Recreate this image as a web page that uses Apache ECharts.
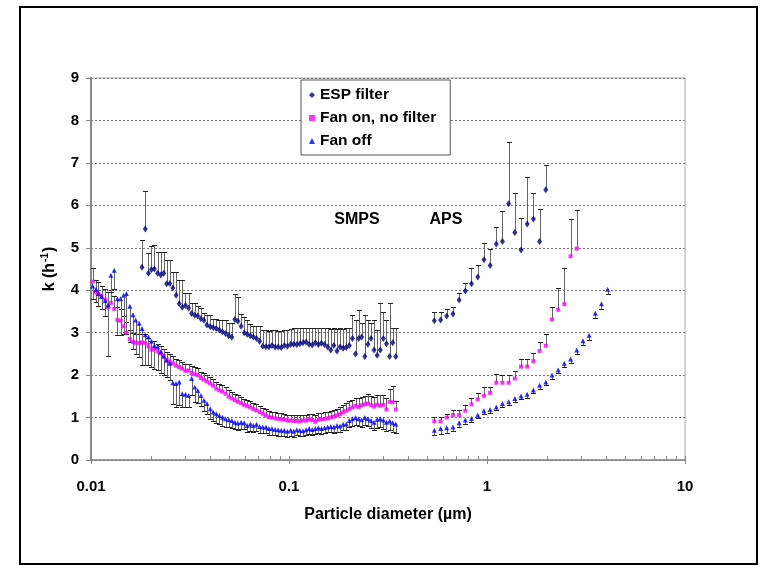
<!DOCTYPE html>
<html><head><meta charset="utf-8">
<script src="https://cdn.jsdelivr.net/npm/echarts/dist/echarts.min.js"></script>
<style>html,body{margin:0;padding:0;background:#fff}#c{width:761px;height:566px}</style>
</head><body><div id="c"></div><script>
// SMPS channel mid-point diameters (µm)
var smpsDiam = [0.0102,0.0106,0.0109,0.0113,0.0118,0.0122,0.0126,0.0131,0.0136,0.0141,
0.0146,0.0151,0.0157,0.0163,0.0168,0.0175,0.0181,0.0188,0.0195,0.0202,
0.0209,0.0217,0.0225,0.0233,0.0241,0.0250,0.0259,0.0269,0.0279,0.0289,
0.0300,0.0311,0.0322,0.0334,0.0346,0.0359,0.0372,0.0385,0.0400,0.0414,
0.0429,0.0445,0.0461,0.0478,0.0496,0.0514,0.0533,0.0552,0.0573,0.0594,
0.0615,0.0638,0.0661,0.0685,0.0710,0.0737,0.0764,0.0791,0.0820,0.0851,
0.0882,0.0914,0.0947,0.0982,0.1018,0.1055,0.1094,0.1134,0.1176,0.1219,
0.1263,0.1310,0.1358,0.1407,0.1459,0.1512,0.1568,0.1625,0.1685,0.1747,
0.1811,0.1877,0.1946,0.2017,0.2091,0.2167,0.2247,0.2329,0.2414,0.2503,
0.2595,0.2690,0.2788,0.2890,0.2996,0.3106,0.3220,0.3338,0.3460];
// APS channel diameters (µm)
var apsDiam = [0.542,0.583,0.626,0.673,0.723,0.777,0.835,0.898,0.965,1.037,
1.114,1.197,1.286,1.382,1.486,1.596,1.715,1.843,1.981,2.129,
2.288,2.458,2.642,2.839,3.051,3.278,3.523,3.786,4.068];

// ESP filter (SMPS starts at 0.0181 µm)
var espSmpsStart = 16;
var espSmps = [4.54,5.44,4.40,4.49,4.50,4.40,4.36,4.40,4.15,4.16,
4.05,3.88,3.68,3.60,3.64,3.58,3.45,3.41,3.39,3.33,
3.29,3.18,3.14,3.12,3.10,3.06,3.02,2.98,2.93,2.89,
3.31,3.27,3.15,3.00,2.96,2.93,2.90,2.86,2.80,2.68,
2.67,2.66,2.70,2.66,2.66,2.65,2.70,2.68,2.72,2.73,
2.72,2.74,2.76,2.78,2.73,2.71,2.76,2.72,2.75,2.72,
2.66,2.59,2.70,2.57,2.66,2.63,2.65,2.70,2.86,2.50,
2.86,2.90,2.44,2.73,2.86,2.59,2.47,2.59,2.86,2.74,
2.44,2.76,2.44];
var espSmpsErr = [0.64,0.89,0.47,0.55,0.57,0.49,0.53,0.49,0.56,0.55,
0.39,0.56,0.56,0.64,0.30,0.36,0.24,0.28,0.23,0.26,
0.18,0.23,0.27,0.21,0.23,0.24,0.28,0.32,0.29,0.33,
0.60,0.56,0.30,0.37,0.34,0.27,0.25,0.29,0.35,0.38,
0.39,0.38,0.36,0.40,0.38,0.40,0.36,0.38,0.36,0.37,
0.38,0.36,0.35,0.34,0.38,0.40,0.34,0.38,0.36,0.38,
0.44,0.50,0.40,0.52,0.44,0.46,0.45,0.40,0.55,0.80,
0.67,0.32,0.97,0.57,0.36,0.71,0.59,1.11,0.63,0.56,
1.26,0.36,0.68];
var espAps = [3.28,3.30,3.39,3.44,3.77,3.98,4.15,4.31,4.72,4.58,
5.09,5.15,6.04,5.36,4.95,5.56,5.68,5.15,6.37];
var espApsErr = [0.20,0.18,0.17,0.17,0.17,0.19,0.37,0.29,0.39,0.40,
0.41,0.72,1.46,0.93,0.75,1.11,0.60,0.77,0.57];

// Fan on, no filter
var fanOnSmps = [4.20,3.95,3.92,3.86,3.78,3.60,3.70,3.56,3.30,3.28,
3.15,3.00,2.85,2.78,2.76,2.76,2.77,2.76,2.68,2.60,
2.62,2.56,2.51,2.44,2.36,2.32,2.28,2.22,2.19,2.15,
2.10,2.11,2.05,2.02,2.00,1.93,1.89,1.85,1.80,1.75,
1.68,1.64,1.61,1.56,1.49,1.45,1.41,1.37,1.34,1.30,
1.27,1.24,1.20,1.17,1.13,1.09,1.05,1.01,1.00,0.98,
0.97,0.96,0.95,0.93,0.93,0.92,0.92,0.91,0.93,0.93,
0.95,0.94,0.90,0.95,0.96,0.97,0.98,1.00,1.02,1.05,
1.08,1.12,1.16,1.20,1.24,1.28,1.25,1.29,1.31,1.33,
1.29,1.26,1.30,1.28,1.30,1.19,1.37,1.36,1.19];
var fanOnSmpsErr = [0.32,0.30,0.28,0.25,0.25,0.35,0.30,0.30,0.30,0.28,
0.25,0.25,0.22,0.22,0.20,0.20,0.20,0.20,0.20,0.20,
0.18,0.18,0.18,0.18,0.18,0.17,0.17,0.17,0.17,0.17,
0.16,0.16,0.16,0.16,0.16,0.15,0.15,0.15,0.15,0.15,
0.15,0.15,0.15,0.15,0.15,0.15,0.15,0.15,0.14,0.14,
0.14,0.14,0.14,0.14,0.14,0.14,0.14,0.14,0.14,0.14,
0.14,0.14,0.14,0.14,0.14,0.14,0.14,0.14,0.14,0.14,
0.14,0.15,0.15,0.15,0.15,0.15,0.16,0.16,0.16,0.16,
0.17,0.17,0.18,0.18,0.18,0.18,0.20,0.20,0.20,0.22,
0.22,0.22,0.22,0.24,0.24,0.28,0.30,0.38,0.20];
var fanOnAps = [0.91,0.91,1.00,1.06,1.06,1.16,1.31,1.43,1.51,1.58,
1.82,1.82,1.82,1.92,2.20,2.20,2.33,2.57,2.69,3.31,
3.54,3.67,4.80,4.98];
var fanOnApsErr = [0.11,0.11,0.09,0.11,0.11,0.13,0.14,0.14,0.20,0.13,
0.20,0.18,0.18,0.18,0.18,0.18,0.18,0.22,0.27,0.30,
0.51,0.85,0.88,0.90];

// Fan off (error bars drawn downward)
var fanOffSmps = [4.10,4.02,3.92,3.85,3.75,3.65,4.35,4.47,3.80,3.80,
3.88,3.92,3.62,3.42,3.30,3.22,3.10,2.95,2.90,2.80,
2.70,2.67,2.55,2.45,2.35,2.28,1.82,1.80,1.84,1.56,
1.55,1.52,1.92,1.72,1.64,1.52,1.41,1.33,1.21,1.13,
1.09,1.05,1.01,0.97,0.95,0.93,0.89,0.87,0.89,0.88,
0.81,0.85,0.81,0.84,0.79,0.78,0.78,0.74,0.74,0.72,
0.71,0.70,0.70,0.68,0.70,0.68,0.71,0.70,0.69,0.71,
0.74,0.72,0.74,0.76,0.74,0.76,0.78,0.79,0.78,0.81,
0.80,0.84,0.85,0.93,0.97,1.00,0.97,0.95,1.00,0.97,
0.93,0.89,0.96,0.97,0.94,0.89,0.92,0.88,0.85];
var fanOffSmpsErr = [0.30,0.30,0.30,0.30,0.35,1.21,0.40,0.45,0.85,0.85,
0.90,0.95,0.85,0.80,0.80,0.80,0.85,0.70,0.65,0.60,
0.55,0.55,0.50,0.45,0.40,0.40,0.50,0.55,0.55,0.30,
0.30,0.28,0.40,0.35,0.30,0.25,0.25,0.25,0.25,0.22,
0.22,0.20,0.20,0.20,0.18,0.18,0.17,0.17,0.17,0.16,
0.16,0.16,0.15,0.15,0.15,0.15,0.14,0.14,0.14,0.14,
0.14,0.13,0.13,0.13,0.13,0.13,0.13,0.13,0.13,0.13,
0.13,0.13,0.13,0.13,0.13,0.13,0.13,0.14,0.14,0.14,
0.14,0.14,0.15,0.16,0.18,0.18,0.18,0.18,0.18,0.18,
0.18,0.18,0.20,0.20,0.20,0.20,0.22,0.22,0.22];
var fanOffAps = [0.70,0.74,0.76,0.78,0.88,0.94,0.98,1.06,1.16,1.19,
1.25,1.33,1.37,1.45,1.51,1.55,1.65,1.76,1.84,2.00,
2.12,2.28,2.38,2.59,2.81,2.94,3.46,3.68,4.02];
var fanOffApsErr = [0.12,0.12,0.12,0.10,0.10,0.10,0.08,0.08,0.08,0.08,
0.08,0.08,0.08,0.08,0.08,0.08,0.08,0.08,0.08,0.08,
0.08,0.08,0.10,0.10,0.10,0.12,0.12,0.12,0.12];

var seriesNames = ['ESP filter', 'Fan on, no filter', 'Fan off'];
var xTickLabels = ['0.01', '0.1', '1', '10'];
var majorTicks = [0.01, 0.1, 1, 10];
var minorTicks = [0.02,0.03,0.04,0.05,0.06,0.07,0.08,0.09,0.2,0.3,0.4,0.5,0.6,0.7,0.8,0.9,2,3,4,5,6,7,8,9];

function build(xs, ys, es, start) {
  var out = [];
  for (var i = 0; i < ys.length; i++) out.push([xs[i + (start || 0)], ys[i], es[i]]);
  return out;
}
var espData = build(smpsDiam, espSmps, espSmpsErr, espSmpsStart).concat(build(apsDiam, espAps, espApsErr, 0));
var fanOnData = build(smpsDiam, fanOnSmps, fanOnSmpsErr, 0).concat(build(apsDiam, fanOnAps, fanOnApsErr, 0));
var fanOffData = build(smpsDiam, fanOffSmps, fanOffSmpsErr, 0).concat(build(apsDiam, fanOffAps, fanOffApsErr, 0));

var FONT = 'Liberation Sans, Arial, sans-serif';

function errSeries(data, dir) {
  return {
    type: 'custom', silent: true, z: 2, data: data,
    encode: { x: 0, y: 1 },
    renderItem: function (params, api) {
      var x = api.value(0), y = api.value(1), e = api.value(2);
      var p1 = api.coord([x, y]), p2 = api.coord([x, y + dir * e]);
      var cx = Math.round(p1[0]) + 0.5, y2 = Math.round(p2[1]) + 0.5;
      return { type: 'group', children: [
        { type: 'line', shape: { x1: cx, y1: p1[1], x2: cx, y2: y2 }, style: { stroke: '#666', lineWidth: 1 } },
        { type: 'line', shape: { x1: cx - 2.5, y1: y2, x2: cx + 2.5, y2: y2 }, style: { stroke: '#222', lineWidth: 1 } }
      ]};
    }
  };
}
function tickSeries(vals, major) {
  return {
    type: 'custom', silent: true, z: 5, data: vals.map(function (v) { return [v, 0]; }),
    encode: { x: 0, y: 1 }, clip: false,
    renderItem: function (params, api) {
      var p = api.coord([api.value(0), 0]);
      var x = Math.round(p[0]) + 0.5;
      return { type: 'line', shape: { x1: x, y1: p[1] - 4, x2: x, y2: p[1] + (major ? 4 : 0) },
        style: { stroke: '#888', lineWidth: 1 } };
    }
  };
}

var chart = echarts.init(document.getElementById('c'), null, { renderer: 'canvas' });
chart.setOption({
  animation: false,
  backgroundColor: '#fff',
  grid: { left: 91, right: 76, top: 78, bottom: 106, show: true, borderColor: '#aaa', borderWidth: 1, containLabel: false, outerBoundsMode: 'none' },
  xAxis: {
    type: 'log', logBase: 10, min: 0.01, max: 10, splitNumber: 3,
    axisLine: { show: true, lineStyle: { color: '#888', width: 1.5 } },
    axisTick: { show: false }, splitLine: { show: false }, minorTick: { show: false },
    axisLabel: {
      color: '#000', fontSize: 15, fontWeight: 'bold', fontFamily: FONT, margin: 19,
      formatter: function (v) {
        for (var i = 0; i < majorTicks.length; i++) if (Math.abs(Math.log10(v) - Math.log10(majorTicks[i])) < 1e-6) return xTickLabels[i];
        return '';
      }
    },
    name: 'Particle diameter (µm)', nameLocation: 'middle', nameGap: 47,
    nameTextStyle: { color: '#000', fontSize: 16, fontWeight: 'bold', fontFamily: FONT }
  },
  yAxis: {
    type: 'value', min: 0, max: 9, interval: 1,
    axisLine: { show: true, lineStyle: { color: '#888', width: 2 } },
    axisTick: { show: true, length: 5, lineStyle: { color: '#888' } },
    axisLabel: { color: '#000', fontSize: 15, fontWeight: 'bold', fontFamily: FONT, margin: 12 },
    splitLine: { show: true, lineStyle: { color: '#777', type: [2, 2], width: 1 } },
    name: '{a|k (h}{s|-1}{a|)}', nameLocation: 'middle', nameGap: 31, nameRotate: 90,
    nameTextStyle: { rich: {
      a: { fontSize: 16, fontWeight: 'bold', fontFamily: FONT, color: '#000', lineHeight: 20 },
      s: { fontSize: 10, fontWeight: 'bold', fontFamily: FONT, color: '#000', lineHeight: 20, verticalAlign: 'top', padding: [0, 1, 8, 1] }
    } }
  },
  legend: {
    data: seriesNames, orient: 'vertical', left: 301, top: 80,
    padding: [7, 14, 6, 8], itemGap: 7, itemWidth: 6, itemHeight: 6, itemTextGap: 9,
    backgroundColor: '#fff', borderColor: '#555', borderWidth: 1, selectedMode: false,
    textStyle: { color: '#000', fontSize: 15.5, fontWeight: 'bold', fontFamily: FONT }
  },
  graphic: [
    { type: 'rect', shape: { x: 20, y: 7, width: 737, height: 557 }, style: { fill: 'none', stroke: '#000', lineWidth: 2 }, silent: true },
    { type: 'text', style: { text: 'SMPS', x: 357, y: 220, align: 'center', verticalAlign: 'middle', fontSize: 16, fontWeight: 'bold', fontFamily: FONT, fill: '#000' } },
    { type: 'text', style: { text: 'APS', x: 446, y: 220, align: 'center', verticalAlign: 'middle', fontSize: 16, fontWeight: 'bold', fontFamily: FONT, fill: '#000' } }
  ],
  series: [
    errSeries(espData, 1),
    errSeries(fanOnData, 1),
    errSeries(fanOffData, -1),
    tickSeries(majorTicks, true),
    tickSeries(minorTicks, false),
    { name: seriesNames[0], type: 'scatter', z: 4, symbol: 'diamond', symbolSize: [5, 7], data: espData.map(function (d) { return [d[0], d[1]]; }), itemStyle: { color: '#000080' } },
    { name: seriesNames[1], type: 'scatter', z: 3, symbol: 'rect', symbolSize: 4, data: fanOnData.map(function (d) { return [d[0], d[1]]; }), itemStyle: { color: '#ff00ff' } },
    { name: seriesNames[2], type: 'scatter', z: 3, symbol: 'triangle', symbolSize: 5, data: fanOffData.map(function (d) { return [d[0], d[1]]; }), itemStyle: { color: '#0000ff' } }
  ]
});
</script></body></html>
